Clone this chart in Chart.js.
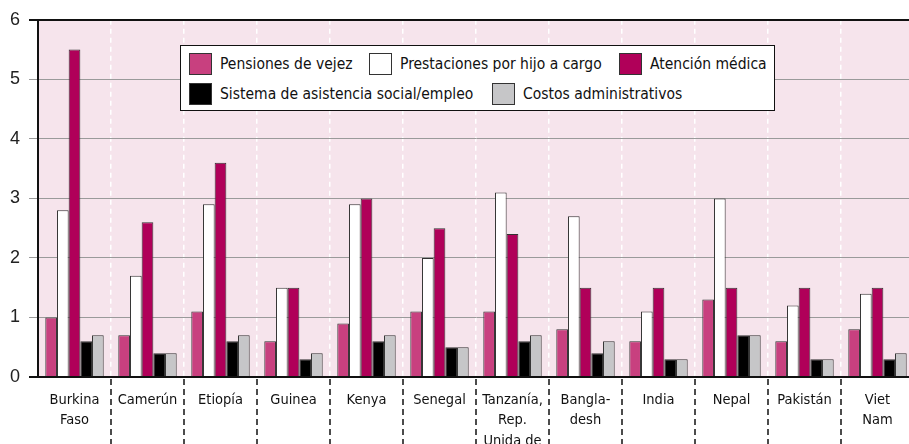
<!DOCTYPE html>
<html>
<head>
<meta charset="utf-8">
<script src="https://cdn.jsdelivr.net/npm/chart.js@4.4.1/dist/chart.umd.min.js"></script>
<style>
  html, body { margin: 0; padding: 0; background: #fff; overflow: hidden; }
  #wrap { position: relative; width: 914px; height: 444px; }
  #legend {
    position: absolute; left: 180px; top: 45px; width: 593px; height: 64px;
    background: #fff; border: 1.5px solid #111;
    font-family: "DejaVu Sans Condensed", "Liberation Sans", sans-serif;
    font-size: 15.5px; color: #111;
  }
  .item { position: absolute; display: flex; align-items: center; height: 22px; white-space: nowrap; }
  .sw { width: 21px; height: 20px; border: 1px solid #333; margin-right: 8px; box-sizing: content-box; }
</style>
</head>
<body>
<div id="wrap">
  <canvas id="chart" width="914" height="444"></canvas>
  <div id="legend"></div>
</div>
<script>
const paises = [
  ['Burkina', 'Faso'], 'Camerún', 'Etiopía', 'Guinea', 'Kenya', 'Senegal',
  ['Tanzanía,', 'Rep.', 'Unida de'], ['Bangla-', 'desh'], 'India', 'Nepal', 'Pakistán', ['Viet', 'Nam']
];

const pensiones    = [1.0, 0.7, 1.1, 0.6, 0.9, 1.1, 1.1, 0.8, 0.6, 1.3, 0.6, 0.8];
const prestaciones = [2.8, 1.7, 2.9, 1.5, 2.9, 2.0, 3.1, 2.7, 1.1, 3.0, 1.2, 1.4];
const atencion     = [5.5, 2.6, 3.6, 1.5, 3.0, 2.5, 2.4, 1.5, 1.5, 1.5, 1.5, 1.5];
const asistencia   = [0.6, 0.4, 0.6, 0.3, 0.6, 0.5, 0.6, 0.4, 0.3, 0.7, 0.3, 0.3];
const costos       = [0.7, 0.4, 0.7, 0.4, 0.7, 0.5, 0.7, 0.6, 0.3, 0.7, 0.3, 0.4];

const yTicks = [0, 1, 2, 3, 4, 5, 6];

const condensada = '"DejaVu Sans Condensed", "Liberation Sans", sans-serif';

function serie(label, data, color) {
  return {
    label: label,
    data: data,
    backgroundColor: color,
    borderColor: '#333',
    borderWidth: 1,
    categoryPercentage: 0.8,
    barPercentage: 1.0
  };
}

const datasets = [
  serie('Pensiones de vejez', pensiones, '#c8407f'),
  serie('Prestaciones por hijo a cargo', prestaciones, '#ffffff'),
  serie('Atención médica', atencion, '#b00059'),
  serie('Sistema de asistencia social/empleo', asistencia, '#000000'),
  serie('Costos administrativos', costos, '#c6c6c8')
];

// fondo rosa del área de trazado
const fondo = {
  id: 'fondo',
  beforeDraw(chart) {
    const a = chart.chartArea, ctx = chart.ctx;
    ctx.save();
    ctx.fillStyle = '#f6e4ec';
    ctx.fillRect(a.left, a.top, a.right - a.left, a.bottom - a.top);
    ctx.restore();
  }
};

// separadores punteados bajo el eje entre países
const separadores = {
  id: 'separadores',
  afterDraw(chart) {
    const x = chart.scales.x, ctx = chart.ctx;
    ctx.save();
    ctx.strokeStyle = '#111';
    ctx.lineWidth = 1.5;
    ctx.setLineDash([6, 4]);
    for (let i = 1; i < paises.length; i++) {
      const px = (x.getPixelForValue(i - 1) + x.getPixelForValue(i)) / 2;
      ctx.beginPath();
      ctx.moveTo(px, chart.chartArea.bottom + 2);
      ctx.lineTo(px, chart.height);
      ctx.stroke();
    }
    ctx.restore();
  }
};

new Chart(document.getElementById('chart'), {
  type: 'bar',
  data: { labels: paises, datasets: datasets },
  plugins: [fondo, separadores],
  options: {
    responsive: false,
    animation: false,
    layout: { padding: { top: 18, right: 0, left: 0, bottom: 0 } },
    plugins: { legend: { display: false }, tooltip: { enabled: false } },
    scales: {
      x: {
        grid: {
          offset: true,
          color: c => c.index === 0 ? 'rgba(0,0,0,0)' : '#ffffff',
          lineWidth: 1.5,
          drawTicks: false
        },
        border: { display: true, color: '#111', width: 2, dash: [5, 4] },
        ticks: {
          color: '#111',
          font: { family: condensada, size: 14.5, lineHeight: 1.4 },
          padding: 13,
          maxRotation: 0,
          autoSkip: false
        },
        afterFit: s => { s.height = 67; }
      },
      y: {
        min: 0,
        max: 6,
        afterBuildTicks: s => { s.ticks = yTicks.map(v => ({ value: v })); },
        ticks: {
          color: '#222',
          font: { family: '"Liberation Sans", Arial, sans-serif', size: 18 },
          padding: 9
        },
        grid: {
          color: c => (c.tick.value === 0 || c.tick.value === 6) ? '#111' : '#9a9a9a',
          lineWidth: c => (c.tick.value === 0 || c.tick.value === 6) ? 2 : 1,
          tickColor: c => (c.tick.value === 0 || c.tick.value === 6) ? '#111' : '#9a9a9a',
          tickLength: 9
        },
        border: { color: '#111', width: 2 },
        afterFit: s => { s.width = 38; }
      }
    }
  }
});

// leyenda en recuadro dentro del gráfico
const posLeyenda = [[8, 7], [188, 7], [438, 7], [8, 37], [311, 37]];
const leyenda = document.getElementById('legend');
datasets.forEach((d, i) => {
  const it = document.createElement('div');
  it.className = 'item';
  it.style.left = posLeyenda[i][0] + 'px';
  it.style.top = posLeyenda[i][1] + 'px';
  const sw = document.createElement('span');
  sw.className = 'sw';
  sw.style.background = d.backgroundColor;
  const tx = document.createElement('span');
  tx.textContent = d.label;
  it.appendChild(sw);
  it.appendChild(tx);
  leyenda.appendChild(it);
});
</script>
</body>
</html>
